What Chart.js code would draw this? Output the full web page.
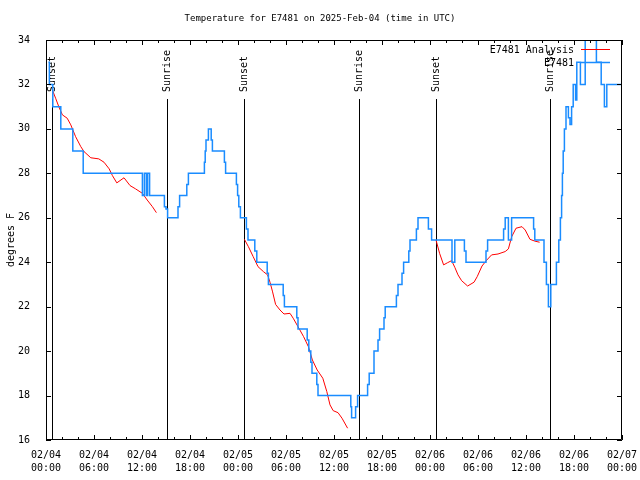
<!DOCTYPE html>
<html>
<head>
<meta charset="utf-8">
<script src="https://cdn.jsdelivr.net/npm/chart.js@4.4.1/dist/chart.umd.min.js"></script>
<style>
  html, body { margin: 0; padding: 0; background: #fff; }
</style>
</head>
<body>
<canvas id="myChart" width="640" height="480"></canvas>
<script>
// x values are hours since 2025-02-04 00:00 UTC

// observed temperatures (E7481), step series
const blueHours = [0.3, 0.42, 0.85, 1.85, 3.35, 4.65, 12.05, 12.3, 12.55, 12.7, 12.95, 14.8, 15.0, 15.2, 16.5, 16.7, 16.9, 17.6, 17.8,
  19.8, 19.9, 20.0, 20.3, 20.4, 20.65, 20.8, 22.3, 22.45, 22.6, 23.8, 23.95, 24.1, 24.3, 24.6,
  25.05, 25.25, 26.1, 26.35, 27.65, 27.8, 29.65, 29.8, 31.35, 31.5, 32.65, 32.85, 33.1, 33.25, 33.85, 34.0,
  38.1, 38.2, 38.4, 38.7, 38.95, 40.2, 40.4, 41.0, 41.5, 41.7, 42.25, 42.4, 43.8, 44.0, 44.5, 44.7, 45.35, 45.5,
  46.3, 46.5, 47.8, 48.2, 50.75, 51.1, 52.3, 52.5, 55.0, 55.2, 57.2, 57.4, 57.8, 58.2,
  60.95, 61.1, 62.25, 62.55, 62.8, 63.1, 63.8, 64.1, 64.3, 64.45, 64.55, 64.65, 64.8, 65.0, 65.3, 65.5, 65.7, 65.9,
  66.2, 66.35, 66.8, 67.4, 68.8, 69.4, 69.8, 70.1, 72];
const blueTemps = [33, 32, 31, 30, 29, 28, 27, 28, 27, 28, 27, 26.5, 26.4, 26, 26.5, 27, 27, 27.5, 28,
  28.5, 29, 29.5, 30, 30, 29.5, 29, 28.5, 28, 28, 27.5, 27, 26.5, 26, 26,
  25.5, 25, 24.5, 24, 23.5, 23, 22.5, 22, 21.5, 21, 20.5, 20, 19.5, 19, 18.5, 18,
  17.5, 17, 17, 17.5, 18, 18.5, 19, 20, 20.5, 21, 21.5, 22, 22.5, 23, 23.5, 24, 24.5, 25,
  25.5, 26, 25.5, 25, 24, 25, 24.5, 24, 24.5, 25, 25.5, 26, 25, 26,
  25.5, 25, 24, 23, 22, 23, 24, 25, 26, 27, 28, 29, 30, 31, 30.5, 30.2, 31, 32,
  31.3, 33, 32, 34, 33, 32, 31, 32, 32];

// analysis series (E7481 Analysis), null = gap
const redHours = [0.8, 1.2, 1.6, 2.05, 2.65, 3.1, 3.7, 4.35, 4.75, 5.6, 6.6, 7.25, 7.9, 8.3, 8.85, 9.75, 10.5, 11.2, 12.05, 12.65, 13.3, 13.8,
  18,
  24.8, 25.3, 25.9, 26.5, 27.2, 27.7, 28.0, 28.3, 28.7, 29.25, 29.75, 30.5, 30.9, 31.5, 32.2, 32.8, 33.3, 33.9, 34.6, 35.1, 35.5, 35.9, 36.5, 37.0, 37.7,
  43,
  48.75, 49.2, 49.7, 50.2, 50.7, 51.1, 51.5, 51.95, 52.7, 53.5, 53.9, 54.5, 55.1, 55.7, 56.5, 57.4, 57.8, 58.2, 58.75, 59.5, 59.9, 60.5, 61.1, 61.7];
const redTemps = [31.75, 31.38, 31.0, 30.63, 30.48, 30.18, 29.65, 29.2, 28.98, 28.7, 28.65, 28.5, 28.2, 27.9, 27.57, 27.8, 27.45, 27.3, 27.1, 26.8, 26.5, 26.23,
  null,
  25.03, 24.7, 24.25, 23.8, 23.57, 23.43, 23.1, 22.7, 22.1, 21.85, 21.67, 21.7, 21.48, 21.1, 20.65, 20.2, 19.6, 19.15, 18.78, 18.18, 17.58, 17.32, 17.23, 16.98, 16.53,
  null,
  25.0, 24.4, 23.88, 23.98, 24.07, 23.77, 23.43, 23.17, 22.93, 23.1, 23.35, 23.83, 24.1, 24.33, 24.37, 24.48, 24.6, 25.14, 25.53, 25.6, 25.45, 25.03, 24.95, 24.9];

// sunrise / sunset markers
const eventHours = [0.8, 15.15, 24.8, 39.15, 48.8, 63.05];
const eventLabels = ['Sunset', 'Sunrise', 'Sunset', 'Sunrise', 'Sunset', 'Sunrise'];

// x tick labels every 6 hours
const xTickHours = [0, 6, 12, 18, 24, 30, 36, 42, 48, 54, 60, 66, 72];
const xTickLabels = [['02/04', '00:00'], ['02/04', '06:00'], ['02/04', '12:00'], ['02/04', '18:00'],
  ['02/05', '00:00'], ['02/05', '06:00'], ['02/05', '12:00'], ['02/05', '18:00'],
  ['02/06', '00:00'], ['02/06', '06:00'], ['02/06', '12:00'], ['02/06', '18:00'], ['02/07', '00:00']];

const titleText = 'Temperature for E7481 on 2025-Feb-04 (time in UTC)';
const yTitle = 'degrees F';

const blueColor = '#1a8cff';
const redColor = '#ff0000';
const monoFont = '"DejaVu Sans Mono", monospace';

// box, ticks, sun lines, legend, titles
const framePlugin = {
  id: 'frame',
  beforeDatasetsDraw(chart) {
    const ctx = chart.ctx;
    const x = chart.scales.x;
    const a = chart.chartArea;
    ctx.save();
    ctx.strokeStyle = '#000';
    ctx.lineWidth = 1;
    ctx.fillStyle = '#000';
    ctx.font = '10px ' + monoFont;
    eventHours.forEach((h, i) => {
      const px = Math.round(x.getPixelForValue(h)) + 0.5;
      ctx.beginPath();
      ctx.moveTo(px, 99);
      ctx.lineTo(px, a.bottom);
      ctx.stroke();
      ctx.save();
      ctx.translate(px, 92);
      ctx.rotate(-Math.PI / 2);
      ctx.textAlign = 'left';
      ctx.textBaseline = 'middle';
      ctx.fillText(eventLabels[i], 0, 0);
      ctx.restore();
    });
    ctx.restore();
  },
  afterDatasetsDraw(chart) {
    const ctx = chart.ctx;
    const x = chart.scales.x;
    const y = chart.scales.y;
    const a = chart.chartArea;
    ctx.save();
    ctx.strokeStyle = '#000';
    ctx.lineWidth = 1;
    ctx.beginPath();
    ctx.rect(Math.round(a.left) + 0.5, Math.round(a.top) + 0.5, Math.round(a.right - a.left) - 1, Math.round(a.bottom - a.top) - 1);
    ctx.stroke();
    // x ticks every 2 hours, longer every 6
    ctx.beginPath();
    for (let h = 0; h <= 72; h += 2) {
      const px = Math.round(x.getPixelForValue(h)) + 0.5;
      const len = h % 6 === 0 ? 5 : 3;
      ctx.moveTo(px, a.bottom);
      ctx.lineTo(px, a.bottom - len);
      ctx.moveTo(px, a.top);
      ctx.lineTo(px, a.top + len);
    }
    for (let v = 16; v <= 34; v += 2) {
      const py = Math.round(y.getPixelForValue(v)) + 0.5;
      ctx.moveTo(a.left, py);
      ctx.lineTo(a.left + 5, py);
      ctx.moveTo(a.right, py);
      ctx.lineTo(a.right - 5, py);
    }
    ctx.stroke();

    ctx.fillStyle = '#000';
    ctx.font = '9px ' + monoFont;
    ctx.textAlign = 'center';
    ctx.textBaseline = 'middle';
    ctx.fillText(titleText, 320, 19);

    ctx.font = '10px ' + monoFont;
    ctx.save();
    ctx.translate(11, 240);
    ctx.rotate(-Math.PI / 2);
    ctx.fillText(yTitle, 0, 0);
    ctx.restore();

    // legend
    const ds = chart.data.datasets;
    const rows = [1, 0];
    rows.forEach((di, r) => {
      const ly = 50 + r * 13;
      ctx.textAlign = 'right';
      ctx.fillStyle = '#000';
      ctx.fillText(ds[di].label, 574, ly);
      ctx.strokeStyle = ds[di].borderColor;
      ctx.lineWidth = ds[di].borderWidth;
      ctx.beginPath();
      ctx.moveTo(581, ly - 0.5);
      ctx.lineTo(610, ly - 0.5);
      ctx.stroke();
    });
    ctx.restore();
  }
};

const data = {
  datasets: [{
    label: 'E7481',
    data: blueHours.map((h, i) => ({ x: h, y: blueTemps[i] })),
    borderColor: blueColor,
    borderWidth: 1.5,
    stepped: true,
    pointRadius: 0,
    fill: false
  }, {
    label: 'E7481 Analysis',
    data: redHours.map((h, i) => ({ x: h, y: redTemps[i] })),
    borderColor: redColor,
    borderWidth: 1,
    pointRadius: 0,
    spanGaps: false,
    fill: false
  }]
};

const config = {
  type: 'line',
  data,
  options: {
    responsive: false,
    animation: false,
    layout: { padding: { left: 0, right: 18, top: 40, bottom: 0 } },
    plugins: {
      legend: { display: false },
      title: { display: false },
      tooltip: { enabled: false }
    },
    scales: {
      x: {
        type: 'linear',
        min: 0,
        max: 72,
        afterBuildTicks: s => { s.ticks = xTickHours.map(v => ({ value: v })); },
        afterFit: s => { s.height = 40; s.paddingLeft = 0; s.paddingRight = 0; },
        grid: { display: false },
        border: { display: false },
        ticks: {
          autoSkip: false,
          maxRotation: 0,
          padding: 1,
          color: '#000',
          font: { family: monoFont, size: 10, lineHeight: 1.3 },
          callback: (v, i) => xTickLabels[i]
        }
      },
      y: {
        min: 16,
        max: 34,
        afterFit: s => { s.width = 46; s.paddingTop = 0; s.paddingBottom = 0; },
        grid: { display: false },
        border: { display: false },
        ticks: {
          stepSize: 2,
          padding: 8,
          color: '#000',
          font: { family: monoFont, size: 10 }
        }
      }
    }
  },
  plugins: [framePlugin]
};

const myChart = new Chart(document.getElementById('myChart'), config);
</script>
</body>
</html>
